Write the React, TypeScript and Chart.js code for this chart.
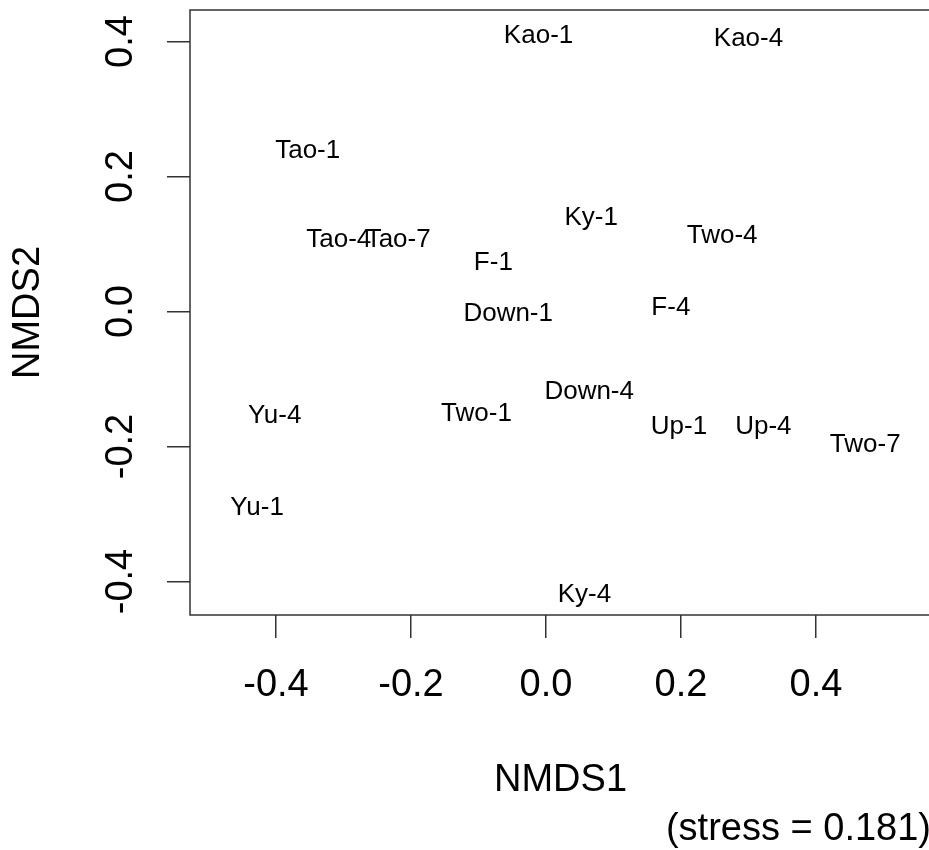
import React, { useEffect, useRef } from "react";
import { Chart, registerables } from "chart.js";
Chart.register(...registerables);

const sampleLabels = ["Kao-1", "Kao-4", "Tao-1", "Tao-4", "Tao-7", "Ky-1", "Two-4", "F-1", "Down-1", "F-4", "Yu-4", "Two-1", "Down-4", "Up-1", "Up-4", "Two-7", "Yu-1", "Ky-4"];
const nmds1 = [-0.011, 0.300, -0.353, -0.307, -0.219, 0.067, 0.261, -0.078, -0.056, 0.185, -0.402, -0.103, 0.064, 0.197, 0.322, 0.473, -0.428, 0.057];
const nmds2 = [0.411, 0.407, 0.241, 0.109, 0.109, 0.142, 0.116, 0.075, 0.000, 0.008, -0.152, -0.149, -0.116, -0.167, -0.167, -0.194, -0.288, -0.416];
const xTickValues = [-0.4, -0.2, 0, 0.2, 0.4];
const yTickValues = [-0.4, -0.2, 0, 0.2, 0.4];
const xRange = [-0.5274, 0.5704];
const yRange = [-0.4496, 0.4467];
const xTitle = "NMDS1";
const yTitle = "NMDS2";
const stressNote = "(stress = 0.181)";

const FONT = "'Liberation Sans', Arial, Helvetica, sans-serif";
const CANVAS_W = 960;
const CANVAS_H = 850;

export default function App() {
  const ref = useRef<HTMLCanvasElement | null>(null);

  useEffect(() => {
    const canvas = ref.current;
    if (!canvas) return;

    const labelPlugin = {
      id: "nmdsLabels",
      afterDatasetsDraw(chart: any) {
        const ctx = chart.ctx;
        const xs = chart.scales.x;
        const ys = chart.scales.y;
        const size = 26;
        ctx.save();
        ctx.font = `${size}px ${FONT}`;
        ctx.fillStyle = "#000";
        ctx.textAlign = "center";
        ctx.textBaseline = "alphabetic";
        sampleLabels.forEach((lab, i) => {
          const px = xs.getPixelForValue(nmds1[i]);
          const py = ys.getPixelForValue(nmds2[i]);
          ctx.fillText(lab, px, py + 0.716 * size / 2);
        });
        ctx.restore();
      },
      afterDraw(chart: any) {
        const ctx = chart.ctx;
        const a = chart.chartArea;
        ctx.save();
        ctx.strokeStyle = "#333";
        ctx.lineWidth = 1.5;
        ctx.strokeRect(a.left, a.top, a.right - a.left, a.bottom - a.top);
        ctx.font = `38px ${FONT}`;
        ctx.fillStyle = "#000";
        ctx.textAlign = "right";
        ctx.textBaseline = "alphabetic";
        ctx.fillText(stressNote, a.right, 840);
        ctx.restore();
      },
    };

    const chart = new Chart(canvas, {
      type: "scatter",
      data: {
        datasets: [
          {
            data: nmds1.map((x, i) => ({ x, y: nmds2[i] })),
            pointRadius: 0,
            pointHoverRadius: 0,
            showLine: false,
          },
        ],
      },
      options: {
        animation: false,
        responsive: false,
        devicePixelRatio: 1,
        events: [],
        layout: { padding: { left: 0, top: 10, right: CANVAS_W - 931, bottom: 0 } },
        plugins: { legend: { display: false }, tooltip: { enabled: false } },
        scales: {
          x: {
            type: "linear",
            min: xRange[0],
            max: xRange[1],
            afterBuildTicks: (s: any) => {
              s.ticks = xTickValues.map((v) => ({ value: v }));
            },
            afterFit: (s: any) => {
              s.height = CANVAS_H - 615;
              s.paddingLeft = 0;
              s.paddingRight = 0;
              s.paddingTop = 0;
              s.paddingBottom = 0;
            },
            grid: { display: true, drawOnChartArea: false, drawTicks: true, tickLength: 23, color: "#333", lineWidth: 1.5 },
            border: { display: false },
            ticks: {
              autoSkip: false,
              includeBounds: false,
              maxRotation: 0,
              minRotation: 0,
              padding: 25,
              color: "#000",
              font: { family: FONT, size: 38 },
              callback: (v: any) => Number(v).toFixed(1),
            },
            title: { display: true, text: xTitle, color: "#000", font: { family: FONT, size: 38 }, padding: { top: 0, bottom: 47 } },
          },
          y: {
            type: "linear",
            min: yRange[0],
            max: yRange[1],
            afterBuildTicks: (s: any) => {
              s.ticks = yTickValues.map((v) => ({ value: v }));
            },
            afterFit: (s: any) => {
              s.width = 190;
              s.paddingLeft = 0;
              s.paddingRight = 0;
              s.paddingTop = 0;
              s.paddingBottom = 0;
            },
            grid: { display: true, drawOnChartArea: false, drawTicks: true, tickLength: 23, color: "#333", lineWidth: 1.5 },
            border: { display: false },
            ticks: {
              autoSkip: false,
              includeBounds: false,
              minRotation: 90,
              maxRotation: 90,
              crossAlign: "center",
              padding: 13,
              color: "#000",
              font: { family: FONT, size: 38 },
              callback: (v: any) => Number(v).toFixed(1),
            },
            title: { display: true, text: yTitle, color: "#000", font: { family: FONT, size: 38 }, padding: { top: 6, bottom: 0 } },
          },
        },
      },
      plugins: [labelPlugin],
    } as any);

    return () => chart.destroy();
  }, []);

  return (
    <div style={{ position: "fixed", left: 0, top: 0, width: 929, height: 850, overflow: "hidden", background: "#fff" }}>
      <canvas ref={ref} width={CANVAS_W} height={CANVAS_H} style={{ width: CANVAS_W, height: CANVAS_H, display: "block" }} />
    </div>
  );
}
